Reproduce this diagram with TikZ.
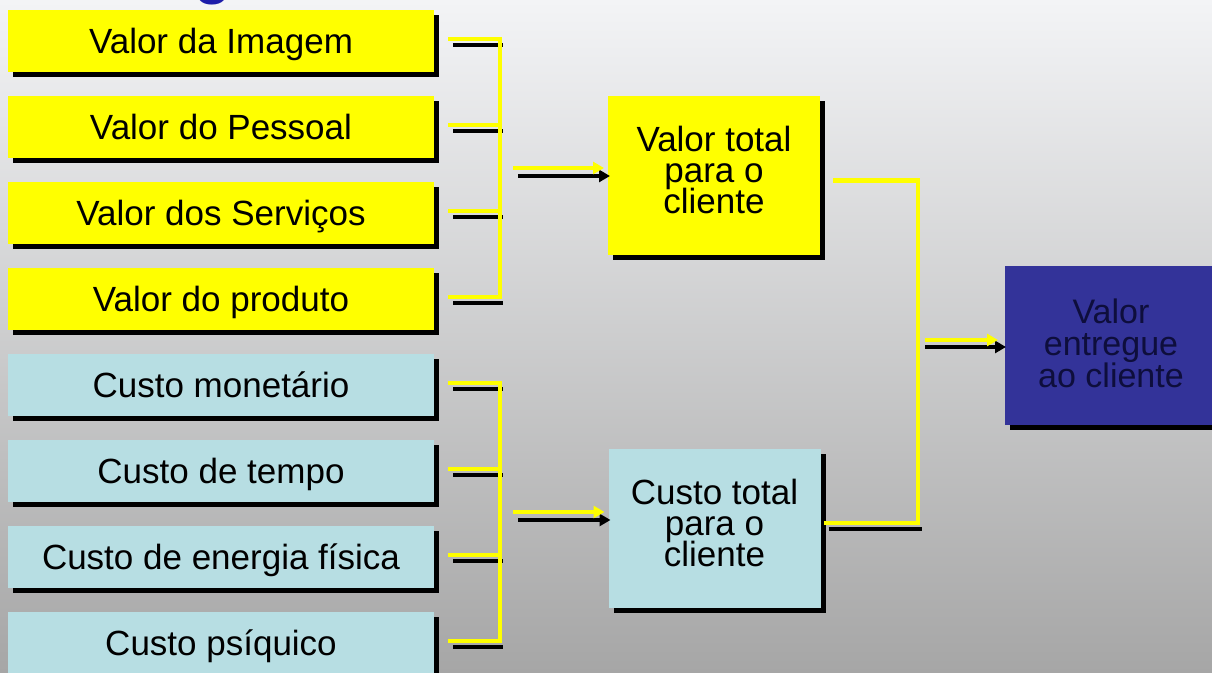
\documentclass[tikz,border=0pt]{standalone}
\usepackage{fontspec}
\setmainfont{Liberation Sans}
\usepackage{xcolor}
\usepackage{tikz}
\usetikzlibrary{positioning, calc, shadows, arrows.meta}

\definecolor{valueYellow}{RGB}{255,255,0}
\definecolor{costCyan}{RGB}{183,222,227}
\definecolor{deliveredNavy}{RGB}{51,51,153}
\definecolor{deliveredText}{RGB}{14,14,60}
\definecolor{titleBlue}{RGB}{28,28,170}
\definecolor{bgTop}{RGB}{243,244,246}
\definecolor{bgMiddle}{RGB}{214,214,216}
\definecolor{bgBottom}{RGB}{166,166,166}
\newcommand{\tightleading}{\lineskiplimit-20pt\relax}

\begin{document}
\begin{tikzpicture}[x=0.5pt, y=-0.5pt]
% style: Box_style
\tikzstyle{Box_style}=[rectangle,inner sep=0pt,outer sep=0pt,text=black,drop shadow={shadow xshift=2.5pt,shadow yshift=-2.5pt,fill=black,opacity=1}]
% style: ItemBox_style
\tikzstyle{ItemBox_style}=[Box_style,minimum width=213pt,minimum height=31pt,font=\fontsize{17.5}{17.5}\selectfont,text height=13pt,text depth=0pt]
% style: TotalBox_style
\tikzstyle{TotalBox_style}=[Box_style,minimum width=106pt,minimum height=79.5pt,align=center,font=\fontsize{17.5}{15.5}\selectfont\tightleading,text depth=6pt]
% style: HighlightEdge
\tikzstyle{HighlightEdge}=[draw=valueYellow,line width=2.4pt]
% style: ShadowEdge
\tikzstyle{ShadowEdge}=[draw=black,line width=2.4pt]
% style: defaultArrow
\tikzstyle{defaultArrow}=[-{Triangle[length=5.5pt,width=6pt]}]

% background
\useasboundingbox (0,0) rectangle (1212,673);
\fill[top color=bgTop,middle color=bgMiddle,bottom color=bgBottom] (0,0) rectangle (1212,673);

% node: title_fragment
\node[font=\fontsize{35}{35}\selectfont,text=titleBlue,anchor=base,inner sep=0pt] (title_fragment) at (213,-9) {g};

% node group: value_group
% node: value_image
\node[ItemBox_style,fill=valueYellow] (value_image) at (221, 41) {Valor da Imagem};
% node: value_staff
\node[ItemBox_style,fill=valueYellow] (value_staff) at (221, 127) {Valor do Pessoal};
% node: value_services
\node[ItemBox_style,fill=valueYellow] (value_services) at (221, 213) {Valor dos Serviços};
% node: value_product
\node[ItemBox_style,fill=valueYellow] (value_product) at (221, 299) {Valor do produto};
% end of node group: value_group

% node group: cost_group
% node: cost_money
\node[ItemBox_style,fill=costCyan] (cost_money) at (221, 385) {Custo monetário};
% node: cost_time
\node[ItemBox_style,fill=costCyan] (cost_time) at (221, 471) {Custo de tempo};
% node: cost_energy
\node[ItemBox_style,fill=costCyan] (cost_energy) at (221, 557) {Custo de energia física};
% node: cost_psychic
\node[ItemBox_style,fill=costCyan] (cost_psychic) at (221, 643) {Custo psíquico};
% end of node group: cost_group

% node group: total_group
% node: total_value
\node[TotalBox_style,fill=valueYellow] (total_value) at (714, 175.5) {Valor total\\para o\\cliente};
% node: total_cost
\node[TotalBox_style,fill=costCyan] (total_cost) at (714.5, 529) {Custo total\\para o\\cliente};
% end of node group: total_group

% node: delivered_value
\node[TotalBox_style,fill=deliveredNavy,text=deliveredText,font=\fontsize{17}{16}\selectfont\tightleading,text depth=3pt] (delivered_value) at (1111, 346) {Valor\\entregue\\ao cliente};

% bracket points
\coordinate (value_bracket) at (500, 168);
\coordinate (cost_bracket) at (500, 512);
\coordinate (total_bracket) at (918, 352);

% edges from value_group to value_bracket
\draw[ShadowEdge] ($(value_image.east)+(19,4)$) -- ($(value_image.east -| value_bracket)+(3,4)$);
\draw[ShadowEdge] ($(value_staff.east)+(19,4)$) -- ($(value_staff.east -| value_bracket)+(3,4)$);
\draw[ShadowEdge] ($(value_services.east)+(19,4)$) -- ($(value_services.east -| value_bracket)+(3,4)$);
\draw[ShadowEdge] ($(value_product.east)+(19,4)$) -- ($(value_product.east -| value_bracket)+(3,4)$);
\draw[HighlightEdge] ($(value_image.east)+(14,-2)$) -- ($(value_image.east -| value_bracket)+(0,-2)$) -- ($(value_product.east -| value_bracket)+(0,-2)$) -- ($(value_product.east)+(14,-2)$);
\draw[HighlightEdge] ($(value_staff.east)+(14,-2)$) -- ($(value_staff.east -| value_bracket)+(0,-2)$);
\draw[HighlightEdge] ($(value_services.east)+(14,-2)$) -- ($(value_services.east -| value_bracket)+(0,-2)$);

% edge from value_bracket to total_value
\draw[ShadowEdge, defaultArrow] ($(value_bracket)+(18,8)$) -- ($(total_value.west |- value_bracket)+(2,8)$);
\draw[HighlightEdge, defaultArrow] ($(value_bracket)+(13,0)$) -- ($(total_value.west |- value_bracket)+(-4,0)$);

% edges from cost_group to cost_bracket
\draw[ShadowEdge] ($(cost_money.east)+(19,4)$) -- ($(cost_money.east -| cost_bracket)+(3,4)$);
\draw[ShadowEdge] ($(cost_time.east)+(19,4)$) -- ($(cost_time.east -| cost_bracket)+(3,4)$);
\draw[ShadowEdge] ($(cost_energy.east)+(19,4)$) -- ($(cost_energy.east -| cost_bracket)+(3,4)$);
\draw[ShadowEdge] ($(cost_psychic.east)+(19,4)$) -- ($(cost_psychic.east -| cost_bracket)+(3,4)$);
\draw[HighlightEdge] ($(cost_money.east)+(14,-2)$) -- ($(cost_money.east -| cost_bracket)+(0,-2)$) -- ($(cost_psychic.east -| cost_bracket)+(0,-2)$) -- ($(cost_psychic.east)+(14,-2)$);
\draw[HighlightEdge] ($(cost_time.east)+(14,-2)$) -- ($(cost_time.east -| cost_bracket)+(0,-2)$);
\draw[HighlightEdge] ($(cost_energy.east)+(14,-2)$) -- ($(cost_energy.east -| cost_bracket)+(0,-2)$);

% edge from cost_bracket to total_cost
\draw[ShadowEdge, defaultArrow] ($(cost_bracket)+(18,8)$) -- ($(total_cost.west |- cost_bracket)+(2,8)$);
\draw[HighlightEdge, defaultArrow] ($(cost_bracket)+(13,0)$) -- ($(total_cost.west |- cost_bracket)+(-4,0)$);

% edges from total_value and total_cost to total_bracket
\draw[ShadowEdge] ($(total_cost.east)+(8,0)$) -- ($(total_cost.east -| total_bracket)+(4,0)$);
\draw[HighlightEdge] ($(total_value.east)+(13,5)$) -- ($(total_value.east -| total_bracket)+(0,5)$) -- ($(total_cost.east -| total_bracket)+(0,-6)$) -- ($(total_cost.east)+(3,-6)$);

% edge from total_bracket to delivered_value
\draw[ShadowEdge, defaultArrow] ($(delivered_value.west -| total_bracket)+(7,1)$) -- ($(delivered_value.west)+(1,1)$);
\draw[HighlightEdge, defaultArrow] ($(delivered_value.west -| total_bracket)+(7,-6)$) -- ($(delivered_value.west)+(-7,-6)$);

\end{tikzpicture}
\end{document}
